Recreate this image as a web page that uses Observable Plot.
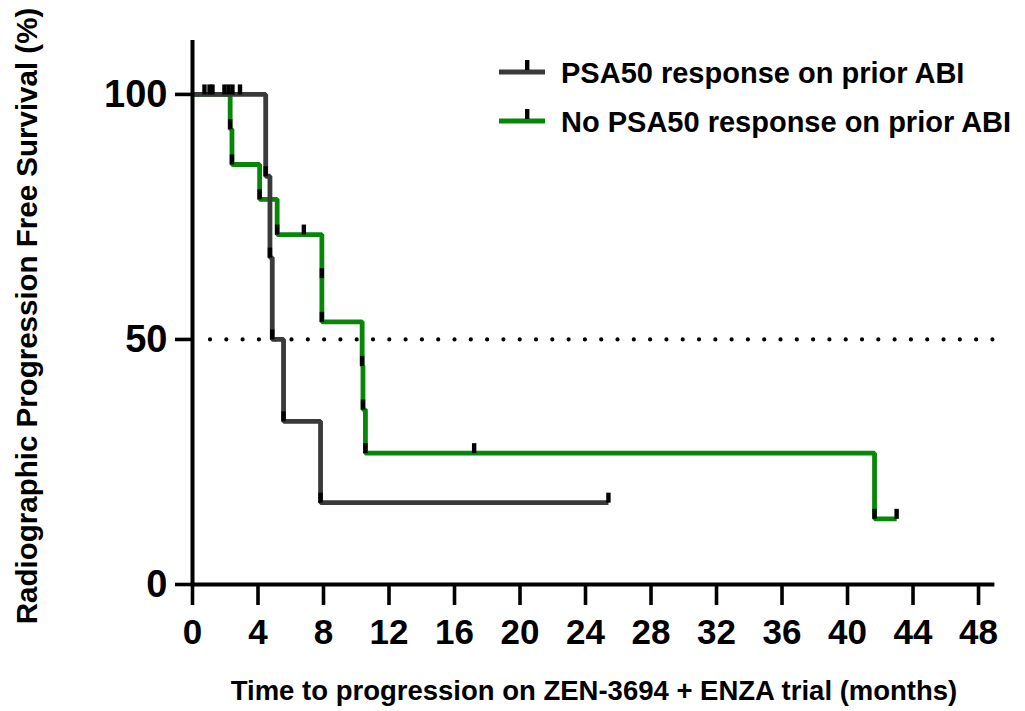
<!DOCTYPE html>
<html>
<head>
<meta charset="utf-8">
<script src="https://cdn.jsdelivr.net/npm/d3@7"></script>
<script src="https://cdn.jsdelivr.net/npm/@observablehq/plot@0.6"></script>
<style>
  html, body { margin: 0; padding: 0; background: #fff; }
  #chart { width: 1025px; height: 711px; }
</style>
</head>
<body>
<div id="chart"></div>
<script>
// Kaplan–Meier steps: time (months) and survival (%) after each event
const respTime = [0, 4.47, 4.73, 4.87, 5.56, 7.82, 25.4];
const respSurv = [100, 83.3, 66.7, 50.0, 33.3, 16.7, 16.7];
const noRespTime = [0, 2.30, 2.41, 4.10, 5.17, 7.90, 7.90, 10.36, 10.41, 10.56, 41.65, 43.0];
const noRespSurv = [100, 92.9, 85.7, 78.6, 71.4, 62.5, 53.6, 44.6, 35.7, 26.8, 13.4, 13.4];

// censored observations (time, survival %)
const respCensorTime = [0.73, 1.22, 2.44, 2.9, 25.4];
const respCensorSurv = [100, 100, 100, 100, 16.7];
const noRespCensorTime = [1.04, 1.95, 2.2, 6.8, 17.2, 43.0];
const noRespCensorSurv = [100, 100, 100, 71.4, 26.8, 13.4];

const seriesNames = ["PSA50 response on prior ABI", "No PSA50 response on prior ABI"];
const seriesColors = ["#3a3a3a", "#078707"];

const xTicks = [0, 4, 8, 12, 16, 20, 24, 28, 32, 36, 40, 44, 48];
const yTicks = [0, 50, 100];
const medianLevel = 50;
const medianSpan = [1.1, 49];

const xTitle = "Time to progression on ZEN-3694 + ENZA trial (months)";
const yTitle = "Radiographic Progression Free Survival (%)";

// assemble tables
const resp = respTime.map((t, i) => ({t, s: respSurv[i]}));
const noResp = noRespTime.map((t, i) => ({t, s: noRespSurv[i]}));
const eventMarks = [...resp.slice(1, -1), ...noResp.slice(1, -1)];
const censorMarks = [
  ...respCensorTime.map((t, i) => ({t, s: respCensorSurv[i]})),
  ...noRespCensorTime.map((t, i) => ({t, s: noRespCensorSurv[i]}))
];

// vertical tick symbol rising from the point
const tickSymbol = {
  draw(context) {
    context.moveTo(-2.2, 0);
    context.lineTo(2.2, 0);
    context.lineTo(2.2, -10);
    context.lineTo(-2.2, -10);
    context.closePath();
  }
};

const labelFont = "'Liberation Sans', Arial, sans-serif";

const chart = Plot.plot({
  width: 1025,
  height: 711,
  marginLeft: 192,
  marginRight: 30.6,
  marginTop: 40,
  marginBottom: 127,
  x: {domain: [0, 49]},
  y: {domain: [0, 111]},
  style: {fontFamily: labelFont, background: "#fff"},
  marks: [
    Plot.ruleY([medianLevel], {
      x1: medianSpan[0], x2: medianSpan[1],
      stroke: "black", strokeWidth: 4.2, strokeLinecap: "round", strokeDasharray: "0 16.3"
    }),
    Plot.line(noResp, {x: "t", y: "s", curve: "step-after", stroke: seriesColors[1], strokeWidth: 4.8, strokeLinejoin: "miter", strokeLinecap: "butt"}),
    Plot.line(resp, {x: "t", y: "s", curve: "step-after", stroke: seriesColors[0], strokeWidth: 4.8, strokeLinejoin: "miter", strokeLinecap: "butt"}),
    Plot.dot(eventMarks, {x: "t", y: "s", symbol: tickSymbol, fill: "black", stroke: null}),
    Plot.dot(censorMarks, {x: "t", y: "s", symbol: tickSymbol, fill: "black", stroke: null}),
    Plot.axisX({
      ticks: xTicks, tickSize: 21, tickPadding: 14, strokeWidth: 3.6,
      fontSize: 35, fontWeight: "bold", fontFamily: "'Liberation Sans Narrow', " + labelFont,
      label: null, tickFormat: d => String(d)
    }),
    Plot.axisY({
      ticks: yTicks, tickSize: 17, tickPadding: 8, strokeWidth: 3.6,
      fontSize: 38, fontWeight: "bold", label: null, tickFormat: d => String(d)
    }),
    Plot.ruleX([0], {y1: 0, y2: 111, stroke: "black", strokeWidth: 4}),
    Plot.ruleY([0], {x1: 0, x2: 49, stroke: "black", strokeWidth: 4})
  ]
});

const svg = d3.select(chart);

// axis titles
svg.append("text")
  .attr("x", 594).attr("y", 700)
  .attr("text-anchor", "middle")
  .attr("font-family", labelFont).attr("font-weight", "bold").attr("font-size", 27.5)
  .attr("fill", "black")
  .text(xTitle);

svg.append("text")
  .attr("transform", "translate(37,316) rotate(-90)")
  .attr("text-anchor", "middle")
  .attr("font-family", labelFont).attr("font-weight", "bold").attr("font-size", 29.5)
  .attr("fill", "black")
  .text(yTitle);

// legend
const legend = svg.append("g");
seriesNames.forEach((name, i) => {
  const y = 72 + i * 49;
  legend.append("line")
    .attr("x1", 499).attr("x2", 545).attr("y1", y).attr("y2", y)
    .attr("stroke", seriesColors[i]).attr("stroke-width", 4.8);
  legend.append("rect")
    .attr("x", 525).attr("y", y - 12).attr("width", 4.4).attr("height", 10)
    .attr("fill", "black");
  legend.append("text")
    .attr("x", 561).attr("y", y + 10.5)
    .attr("text-anchor", "start")
    .attr("font-family", labelFont).attr("font-weight", "bold").attr("font-size", 29)
    .attr("fill", "black")
    .text(name);
});

document.getElementById("chart").appendChild(chart);
</script>
</body>
</html>
